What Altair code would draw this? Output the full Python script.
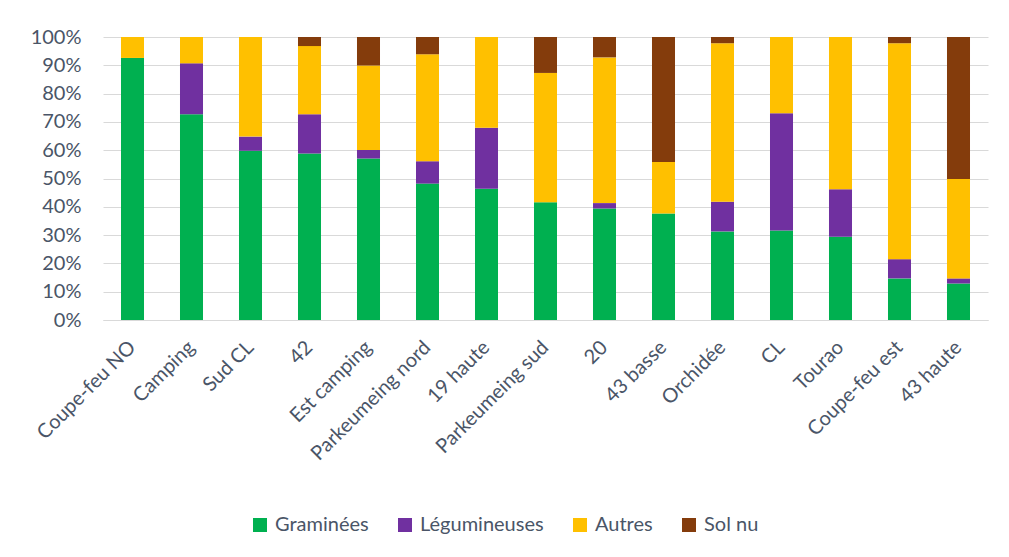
import altair as alt
import pandas as pd

sites = ["Coupe-feu NO", "Camping", "Sud CL", "42", "Est camping", "Parkeumeing nord",
         "19 haute", "Parkeumeing sud", "20", "43 basse", "Orchidée", "CL", "Tourao",
         "Coupe-feu est", "43 haute"]
graminees = [92.6, 72.7, 59.8, 58.8, 57.1, 48.2, 46.4, 41.6, 39.4, 37.6, 31.3, 31.6, 29.4, 14.7, 12.9]
legumineuses = [0.0, 18.0, 5.0, 13.9, 3.0, 7.9, 21.5, 0.0, 1.9, 0.0, 10.5, 41.5, 16.8, 6.8, 1.8]
autres = [7.4, 9.3, 35.2, 24.1, 29.8, 37.8, 32.1, 45.7, 51.5, 18.2, 56.0, 26.9, 53.8, 76.3, 35.1]
sol_nu = [0.0, 0.0, 0.0, 3.2, 10.1, 6.1, 0.0, 12.7, 7.2, 44.2, 2.2, 0.0, 0.0, 2.2, 50.2]

series = ["Graminées", "Légumineuses", "Autres", "Sol nu"]
colors = ["#00B050", "#7030A0", "#FFC000", "#843C0C"]

rows = []
for i, s in enumerate(sites):
    for k, (name, vals) in enumerate(zip(series, [graminees, legumineuses, autres, sol_nu])):
        rows.append({"site": s, "serie": name, "val": vals[i], "idx": k})
df = pd.DataFrame(rows)

FONT = "Lato"
LABEL = "#4A5567"

chart = alt.Chart(df).mark_bar().encode(
    x=alt.X("site:N", sort=sites, title=None,
            scale=alt.Scale(paddingInner=0.61, paddingOuter=0.305),
            axis=alt.Axis(labelAngle=-45, labelFontSize=20, labelColor=LABEL, labelFont=FONT,
                          ticks=False, domainColor="#d9d9d9", labelPadding=24,
                          labelAlign="right", labelBaseline="middle")),
    y=alt.Y("val:Q", stack="normalize", title=None,
            scale=alt.Scale(domain=[0, 1], nice=False),
            axis=alt.Axis(format=".0%", values=[i / 10 for i in range(11)], labelFontSize=20,
                          labelColor=LABEL, labelFont=FONT, ticks=False, domain=False,
                          gridColor="#d9d9d9", labelPadding=22)),
    color=alt.Color("serie:N", sort=series,
                    scale=alt.Scale(domain=series, range=colors),
                    legend=alt.Legend(title=None, orient="none", direction="horizontal",
                                      legendX=147, legendY=478, symbolType="square",
                                      symbolSize=196, symbolStrokeWidth=0, labelFontSize=20,
                                      labelColor=LABEL, labelFont=FONT, columnPadding=26,
                                      symbolOffset=0, labelOffset=5)),
    order=alt.Order("idx:Q", sort="ascending"),
).properties(
    width=885, height=283,
    padding={"left": 95, "top": 29, "right": 13, "bottom": 220},
    autosize=alt.AutoSizeParams(type="none"),
    background="white",
).configure_view(stroke=None)

chart.save("out.html", embed_options={"renderer": "svg", "actions": False})
